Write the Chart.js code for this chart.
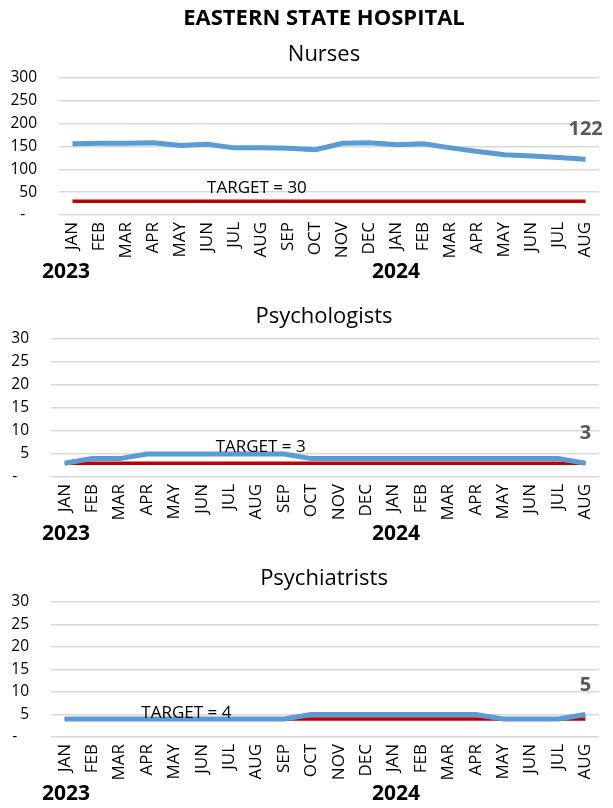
<!DOCTYPE html>
<html>
<head>
<meta charset="utf-8">
<script src="https://cdn.jsdelivr.net/npm/chart.js@4.4.1/dist/chart.umd.min.js"></script>
<style>
  body { margin: 0; background: #fff; }
  .box { position: absolute; left: 0; width: 613px; }
  canvas { display: block; }
</style>
</head>
<body>
<div class="box" style="top:0"><canvas id="nurses" width="613" height="286"></canvas></div>
<div class="box" style="top:286px"><canvas id="psychologists" width="613" height="262"></canvas></div>
<div class="box" style="top:548px"><canvas id="psychiatrists" width="613" height="260"></canvas></div>
<script>
/* data */
const months = ["JAN","FEB","MAR","APR","MAY","JUN","JUL","AUG","SEP","OCT","NOV","DEC",
                "JAN","FEB","MAR","APR","MAY","JUN","JUL","AUG"];
const years = ["2023", "2024"];

const nurses = [156,157,157,158,152,155,147,147,146,143,157,158,154,156,147,139,132,129,126,122];
const nursesTarget = [30,30,30,30,30,30,30,30,30,30,30,30,30,30,30,30,30,30,30,30];

const psychologists = [3,4,4,5,5,5,5,5,5,4,4,4,4,4,4,4,4,4,4,3];
const psychologistsTarget = [3,3,3,3,3,3,3,3,3,3,3,3,3,3,3,3,3,3,3,3];

const psychiatrists = [4,4,4,4,4,4,4,4,4,5,5,5,5,5,5,5,4,4,4,5];
const psychiatristsTarget = [4,4,4,4,4,4,4,4,4,4,4,4,4,4,4,4,4,4,4,4];

const nursesTicks = [0, 300, 50];
const smallTicks = [0, 30, 5];

Chart.defaults.font.family = '"Open Sans", sans-serif';
Chart.defaults.color = "#000";

/* texts drawn on top: titles, target note, last value, years */
const overlay = {
  id: "overlay",
  afterDatasetsDraw(chart, args, o) {
    const { ctx, chartArea, scales: { x, y } } = chart;
    ctx.save();
    ctx.textAlign = "center";
    ctx.textBaseline = "alphabetic";
    ctx.fillStyle = "#000";
    o.titles.forEach(t => {
      ctx.font = t.font;
      ctx.fillText(t.text, 324, t.y);
    });

    ctx.font = '17px "Open Sans"';
    ctx.fillText("TARGET = " + o.target, x.getPixelForValue(o.noteAt[0]), y.getPixelForValue(o.noteAt[1]));

    const data = chart.data.datasets[0].data;
    const last = data.length - 1;
    ctx.fillStyle = "#595959";
    ctx.font = 'bold 20px "Open Sans"';
    ctx.fillText(String(data[last]), x.getPixelForValue(last), y.getPixelForValue(data[last]) - 24);

    ctx.fillStyle = "#000";
    ctx.font = 'bold 21px "Open Sans"';
    ctx.textAlign = "left";
    ctx.fillText(years[0], 42, chartArea.bottom + 63);
    ctx.fillText(years[1], 372, chartArea.bottom + 63);
    ctx.restore();
  }
};

function makeChart(id, values, target, ticks, opts) {
  return new Chart(document.getElementById(id), {
    type: "line",
    data: {
      labels: months,
      datasets: [
        { data: values, borderColor: "#5B9BD5", borderWidth: 5, pointRadius: 0, tension: 0 },
        { data: target, borderColor: "#C00000", borderWidth: 3.5, pointRadius: 0, tension: 0 }
      ]
    },
    options: {
      responsive: false,
      animation: false,
      layout: { padding: { top: opts.top, right: opts.right, left: 0, bottom: 0 } },
      plugins: {
        legend: { display: false },
        tooltip: { enabled: false },
        overlay: { titles: opts.titles, target: target[0], noteAt: opts.noteAt }
      },
      scales: {
        x: {
          offset: true,
          grid: { display: false, drawTicks: false },
          border: { display: false },
          ticks: { autoSkip: false, minRotation: 90, maxRotation: 90, padding: 7, font: { size: 17 } },
          afterFit(s) { s.height = 71; }
        },
        y: {
          min: ticks[0],
          max: ticks[1],
          ticks: {
            stepSize: ticks[2],
            padding: 22,
            font: { size: 15.5 },
            callback: v => v === 0 ? "-\u2002 " : v
          },
          grid: { color: "#D9D9D9", lineWidth: 1.5, drawTicks: false },
          border: { display: false },
          afterFit(s) { s.width = opts.yWidth; }
        }
      }
    },
    plugins: [overlay]
  });
}

makeChart("nurses", nurses, nursesTarget, nursesTicks, {
  top: 78, right: 0, yWidth: 59, noteAt: [6.83, 48],
  titles: [
    { text: "EASTERN STATE HOSPITAL", font: 'bold 22px "Open Sans"', y: 25 },
    { text: "Nurses", font: '22px "Open Sans"', y: 61 }
  ]
});

makeChart("psychologists", psychologists, psychologistsTarget, smallTicks, {
  top: 53, right: 8, yWidth: 51, noteAt: [7.15, 5.5],
  titles: [{ text: "Psychologists", font: '22px "Open Sans"', y: 37 }]
});

makeChart("psychiatrists", psychiatrists, psychiatristsTarget, smallTicks, {
  top: 54, right: 8, yWidth: 51, noteAt: [4.44, 4.15],
  titles: [{ text: "Psychiatrists", font: '22px "Open Sans"', y: 37 }]
});
</script>
</body>
</html>
